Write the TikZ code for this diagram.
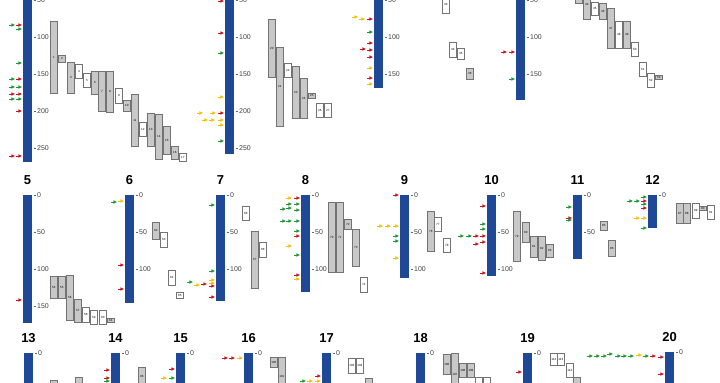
\documentclass[tikz,border=0pt]{standalone}
\usepackage{fontspec}
\setmainfont{Liberation Sans}
\usetikzlibrary{positioning}

\definecolor{chrblue}{RGB}{31,73,150}
\definecolor{mr}{RGB}{200,22,30}
\definecolor{mg}{RGB}{30,150,50}
\definecolor{my}{RGB}{242,192,0}
\definecolor{qgray}{RGB}{200,200,200}

\begin{document}
\begin{tikzpicture}[
		x=1bp, y=-1bp,
		chrom/.style={
			fill=chrblue
		},
		title/.style={
			font=\fontsize{13}{13}\selectfont\bfseries,
			inner sep=0pt
		},
		tickline/.style={
			draw=black!60,
			line width=0.4bp
		},
		ticklbl/.style={
			font=\fontsize{7}{7}\selectfont,
			text=black!75,
			inner sep=0pt
		},
		qtl/.style={
			rectangle,
			draw=black!55,
			line width=0.7bp,
			inner sep=0pt,
			minimum width=7bp,
			anchor=north west,
			font=\fontsize{3}{3}\selectfont
		},
		flag/.pic={
			\fill (0,0) -- (-3.6,-1.7) -- (-3.6,1.7) -- cycle;
			\draw[line width=0.9bp] (-3.4,0) -- (-6.2,0);
		}
		]
		
		\useasboundingbox (0,0) rectangle (720,382);
		\clip (0,0) rectangle (720,382);
		
		% chromosomes: name/left x/y of 0/bottom y/number of ticks
		\foreach \c/\xl/\yo/\yb/\nt in {1/23/-37/162/5, 2/225/-37/154/5, 3/374/-37/88/3, 4/516/-37/100/3,
			5/23/195/323/3, 6/125/195/303/2, 7/216/195/301/2, 8/301/195/292/2, 9/400/195/278/2,
			10/487/195/276/2, 11/573/195/259/1, 12/648/195/228/0,
			13/24/353/400/0, 14/111/353/400/0, 15/176/353/400/0, 16/244/353/400/0,
			17/322/353/400/0, 18/416/353/400/0, 19/523/353/400/0, 20/665/352/400/0}{
			\fill[chrom] (\xl,\yo) rectangle ({\xl+9},\yb);
			\ifdim\yo pt>0pt
			\node[title] (t\c) at ({\xl+4.5},{\yo-15}) {\c};
			\fi
			\foreach \k [evaluate=\k as \tv using int(50*\k)] in {0,...,\nt}{
				\draw[tickline] ({\xl+10.5},{\yo+37*\k}) -- ++(2.5,0)
				node[ticklbl, right=1bp] (k\c-\k) {\tv};
			}
		}
		
		% markers: colour/tip x/y
		\foreach \col/\x/\y in {
			% chr 1
			mg/15/25, mr/22/25, mg/22/29, mg/22/63, mg/15/79, mr/22/79, mg/15/87, mg/22/87,
			mr/15/94, mr/22/94, mg/15/99, mg/22/99, mr/22/111, mr/15/156, mr/22/156,
			% chr 2
			mr/224/1, mr/224/33, mg/224/53, my/224/97, my/203/113, my/216/113, mr/224/113,
			my/208/120, my/215/120, my/224/120, my/224/125, mg/224/141,
			% chr 3
			my/358/17, my/365/19, mr/373/19, mg/373/32, mr/373/43, mr/366/49, mr/373/50,
			mr/373/57, my/373/68, mr/373/78, my/373/84,
			% chr 4
			mr/507/52, mr/515/52, mg/515/79,
			% chr 5
			mr/22/300,
			% chr 6
			mg/117/202, my/124/201, mr/124/265, mr/124/289,
			% chr 7
			mg/215/205, mg/215/271, my/215/280, my/215/283, mg/193/282, my/200/285,
			mr/207/284, mr/215/286, mr/215/297,
			% chr 8
			my/292/198, mr/300/198, mg/292/204, mg/300/204, mg/286/209, mg/292/208, mg/300/210,
			mg/286/221, mg/292/221, mg/300/221, mg/300/231, mr/300/236, my/292/246, mg/300/255,
			mr/300/275, my/300/279,
			% chr 9
			mr/399/195, my/383/226, my/391/226, my/399/226, mg/399/236, mg/399/241, my/399/258,
			% chr 10
			mr/486/206, mg/486/224, mg/486/229, mg/464/236, mg/472/236, mr/479/236, mr/486/236,
			mr/486/242, mr/479/244, mr/486/273,
			% chr 11
			mg/572/207, mr/572/218, mg/572/220,
			% chr 12
			mg/647/197, mg/633/201, mg/640/201, mr/647/201, mg/647/204, mr/647/208,
			my/640/218, my/647/218, mg/647/228,
			% chr 14 - 19
			mr/110/370, mr/110/378, mg/110/381, mr/175/369, my/167/378, mg/175/378,
			mr/228/358, mr/235/358, my/243/358, mr/321/376, mg/306/381, my/313/381, my/321/381,
			mr/522/372,
			% chr 20
			mg/593/356, mg/600/356, mg/607/356, mg/613/354, mg/621/356, mg/627/356, mg/634/356,
			my/642/355, mg/649/356, mr/656/356, mr/664/357, mr/664/374}
		\pic[color=\col] at (\x,\y) {flag};
		
		% qtl boxes: label/left x/top y/bottom y/fill
		\foreach \n/\xl/\ya/\yb/\f in {
			% chr 1
			1/50/21/93/qgray, 2/58/55/62/qgray, 3/67/62/93/qgray, 4/75/64/78/white,
			5/83/73/87/white, 6/91/71/94/qgray, 7/98/71/111/qgray, 8/106/71/112/qgray,
			9/115/88/103/white, 10/123/100/111/qgray, 11/131/94/146/qgray, 12/139/122/136/white,
			13/147/113/146/qgray, 14/155/114/159/qgray, 15/163/126/154/qgray, 16/171/146/159/qgray,
			17/179/153/161/white,
			% chr 2
			20/268/19/77/qgray, 21/276/47/126/qgray, 22/284/63/77/white, 23/292/66/118/qgray,
			24/300/78/118/qgray, 25/308/93/98/qgray, 26/316/103/117/white, 27/324/103/117/white,
			% chr 3
			33/442/-5/13/white, 34/449/42/57/white, 35/457/48/59/white, 36/466/68/79/qgray,
			% chr 4
			43/575/-10/3/qgray, 44/583/-10/19/qgray, 45/591/2/15/white, 46/599/3/19/qgray,
			47/607/8/48/qgray, 48/615/21/48/white, 49/623/21/48/qgray, 50/631/42/56/white,
			51/639/62/76/white, 52/647/73/87/white, 53/655/75/79/qgray,
			% chr 5
			54/50/276/298/qgray, 55/58/276/298/qgray, 56/66/275/320/qgray, 57/74/299/322/qgray,
			58/82/307/322/white, 59/90/310/324/white, 60/99/310/324/white, 61/107/318/322/qgray,
			% chr 6
			62/152/222/239/qgray, 63/160/232/247/white, 64/168/270/285/white, 65/176/292/298/white,
			% chr 7
			66/242/206/220/white, 67/251/231/288/qgray, 68/259/242/257/white,
			% chr 8
			70/328/202/272/qgray, 71/336/202/272/qgray, 72/344/219/229/qgray, 73/352/229/266/qgray,
			74/360/277/292/white,
			% chr 9
			76/427/211/251/qgray, 77/434/217/231/white, 78/443/238/252/white,
			% chr 10
			79/513/211/261/qgray, 80/522/222/242/qgray, 81/530/236/257/qgray, 82/538/236/260/qgray,
			83/546/244/257/qgray,
			% chr 11
			85/600/221/230/qgray, 86/608/240/256/qgray,
			% chr 12
			87/676/203/223/qgray, 88/683/203/223/qgray, 89/692/203/218/white, 90/699/206/210/qgray,
			91/707/205/219/white,
			% chr 13 - 19
			92/50/380/395/qgray, 93/75/377/395/qgray, 96/138/367/385/qgray,
			100/270/357/367/qgray, 101/278/357/395/qgray,
			103/348/358/373/white, 104/356/358/373/white, 105/365/378/395/qgray,
			106/443/354/374/qgray, 107/451/353/395/qgray, 108/459/363/377/qgray, 109/467/363/377/qgray,
			110/475/377/395/white, 111/483/377/395/white,
			112/550/353/365/white, 113/557/353/365/white, 114/566/363/377/white, 115/573/377/395/qgray}
		{
			\pgfmathsetmacro\ym{(\ya+\yb)/2}
			% labels only where the box middle is on the page
			\node[qtl, fill=\f, minimum height={(\yb-(\ya))*1bp}] (q\n) at (\xl,\ya)
			{\ifdim\ym pt<379pt \ifdim\ym pt>2pt \n\fi\fi};
		}
		
	\end{tikzpicture}
\end{document}
